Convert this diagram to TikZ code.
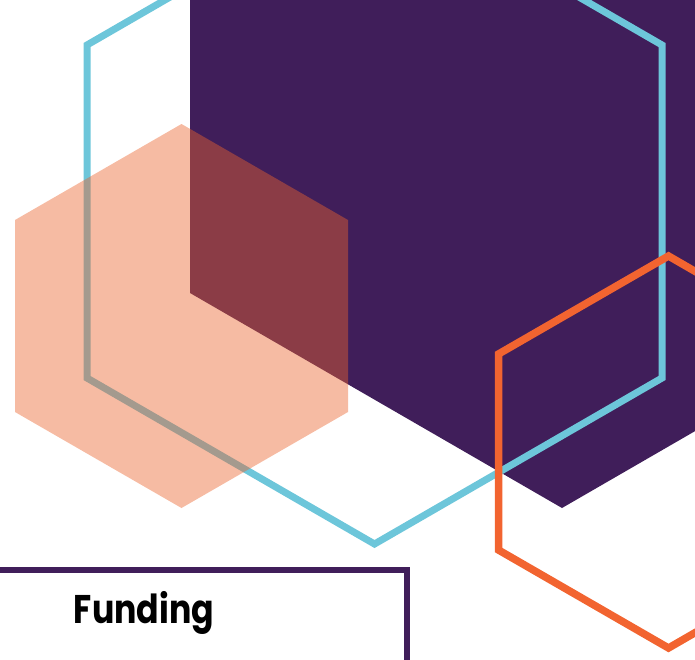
\documentclass[tikz,border=0pt]{standalone}
\usepackage{fontspec}
\setmainfont{Poppins}
\definecolor{hexpurple}{RGB}{64,30,90}
\definecolor{hexcyan}{RGB}{109,198,218}
\definecolor{hexorange}{RGB}{242,100,48}
\definecolor{hexsalmon}{RGB}{235,100,45}
\tikzset{
  px/.style={x=1pt,y=-1pt},
  cyanline/.style={draw=hexcyan,line width=7pt,line join=miter},
  orangeline/.style={draw=hexorange,line width=7.5pt,line join=miter},
  purplefill/.style={fill=hexpurple},
  salmonfill/.style={fill=hexsalmon,fill opacity=0.44},
  boxline/.style={draw=hexpurple,line width=6pt},
  title/.style={font=\bfseries\fontsize{40}{46}\selectfont,text=black,anchor=base,inner sep=0pt,xscale=0.83}
}
\begin{document}
\begin{tikzpicture}[px]
\useasboundingbox (0,0) rectangle (695,659);
\clip (0,0) rectangle (695,659);
% purple filled hexagon
\fill[purplefill] (562,-351) -- (934,-136) -- (934,293) -- (562,508) -- (190,293) -- (190,-136) -- cycle;
% cyan outline hexagon
\draw[cyanline] (374.5,-121) -- (662,45) -- (662,378) -- (374.5,544) -- (87,378) -- (87,45) -- cycle;
% salmon translucent hexagon
\fill[salmonfill] (181.5,124) -- (348,220) -- (348,412) -- (181.5,508) -- (15,412) -- (15,220) -- cycle;
% orange outline hexagon
\draw[orangeline] (668.5,256) -- (838,354) -- (838,550) -- (668.5,648) -- (498.5,550) -- (498.5,354) -- cycle;
% box
\draw[boxline] (-20,570) -- (407,570) -- (407,700);
\node[title] (funding) at (144,623) {Funding};
\end{tikzpicture}
\end{document}
